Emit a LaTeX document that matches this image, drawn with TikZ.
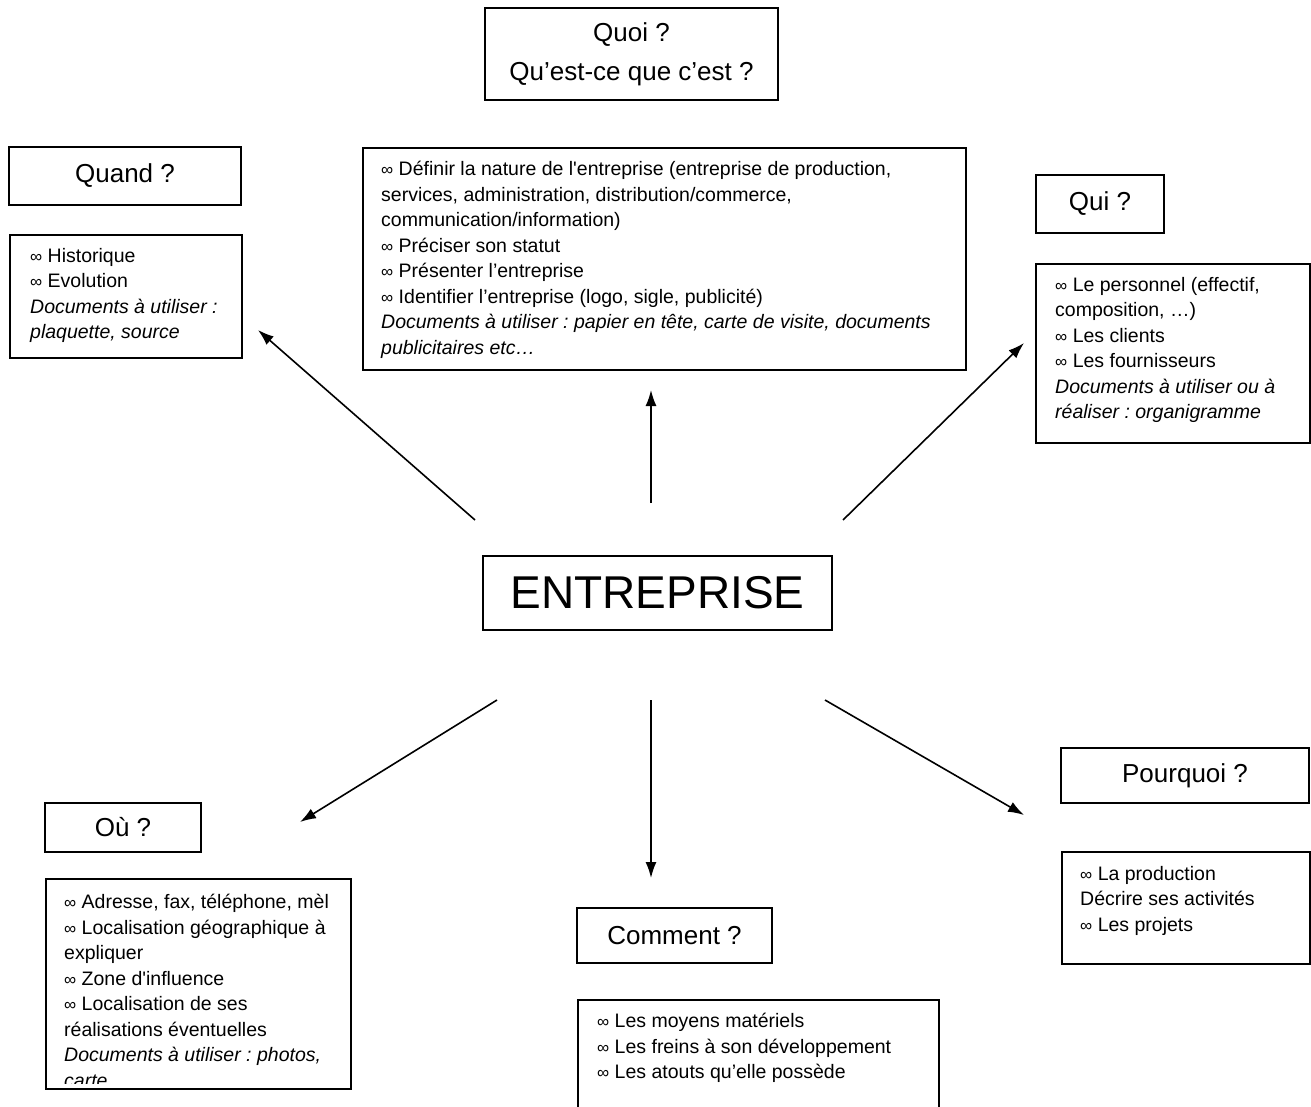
\documentclass[tikz,border=0pt]{standalone}
\usepackage{fontspec}
\setmainfont{Liberation Sans}
\usetikzlibrary{positioning,calc,arrows.meta}
\frenchspacing

\tikzset{
  titlebox/.style={draw, line width=1.6pt, align=center, inner sep=0pt, font=\fontsize{26}{39}\selectfont},
  textbox/.style={draw, line width=1.6pt, anchor=north west, inner sep=0pt},
  bodytext/.style={anchor=north west, align=left, inner sep=0pt, font=\fontsize{19.5}{25.5}\selectfont, execute at begin node=\strut},
  link/.style={line width=1.6pt, -{Latex[length=16pt,width=11pt]}}
}
\newcommand{\puce}{{\fontsize{17}{17}\selectfont ∞}\ }

\begin{document}
\begin{tikzpicture}[x=1pt, y=-1pt]
\useasboundingbox (0,0) rectangle (1311,1107);
\clip (0,0) rectangle (1311,1107);

% centre
\node[draw, line width=1.6pt, minimum width=349pt, minimum height=74pt, inner sep=0pt,
      font=\fontsize{46}{46}\selectfont] (entreprise) at (657.5,593) {ENTREPRISE};

% titres
\node[titlebox, minimum width=293pt, minimum height=92pt] (quoi) at (631.5,54) {Quoi ?\\Qu’est-ce que c’est ?};
\node[titlebox, minimum width=232pt, minimum height=58pt] (quand) at (125,176) {Quand ?};
\node[titlebox, minimum width=128pt, minimum height=58pt] (qui) at (1100,204) {Qui ?};
\node[titlebox, minimum width=248pt, minimum height=55pt] (pourquoi) at (1185,775.5) {Pourquoi ?};
\node[titlebox, minimum width=156pt, minimum height=49pt] (ou) at (123,827.5) {Où ?};
\node[titlebox, minimum width=195pt, minimum height=55pt] (comment) at (674.5,935.5) {Comment ?};

% cadres de contenu
\node[textbox, minimum width=232pt, minimum height=123pt] (quandbox) at (9,234) {};
\node[textbox, minimum width=603pt, minimum height=222pt] (quoibox) at (362,147) {};
\node[textbox, minimum width=274pt, minimum height=179pt] (quibox) at (1035,263) {};
\node[textbox, minimum width=248pt, minimum height=112pt] (pourquoibox) at (1061,851) {};
\node[textbox, minimum width=305pt, minimum height=210pt] (oubox) at (45,878) {};
\node[textbox, minimum width=361pt, minimum height=140pt] (commentbox) at (577,999) {};

% textes
\node[bodytext] (quandtxt) at (30,248) {\puce Historique\\\puce Evolution\\
  \textit{Documents à utiliser :}\\\textit{plaquette, source}};
\node[bodytext] (quoitxt) at (381,161) {\puce Définir la nature de l\textquotesingle entreprise (entreprise de production,\\
  services, administration, distribution/commerce,\\
  communication/information)\\
  \puce Préciser son statut\\
  \puce Présenter l’entreprise\\
  \puce Identifier l’entreprise (logo, sigle, publicité)\\
  \textit{Documents à utiliser : papier en tête, carte de visite, documents}\\
  \textit{publicitaires etc…}};
\node[bodytext] (quitxt) at (1055,277) {\puce Le personnel (effectif,\\composition, …)\\
  \puce Les clients\\\puce Les fournisseurs\\
  \textit{Documents à utiliser ou à}\\\textit{réaliser : organigramme}};
\node[bodytext] (pourquoitxt) at (1080,866) {\puce La production\\Décrire ses activités\\\puce Les projets};
\begin{scope}
  \clip (45,878) rectangle (350,1083);
  \node[bodytext] (outxt) at (64,894) {\puce Adresse, fax, téléphone, mèl\\
    \puce Localisation géographique à\\expliquer\\
    \puce Zone d\textquotesingle influence\\
    \puce Localisation de ses\\réalisations éventuelles\\
    \textit{Documents à utiliser : photos,}\\\textit{carte}};
\end{scope}
\node[bodytext] (commenttxt) at (597,1013) {\puce Les moyens matériels\\
  \puce Les freins à son développement\\\puce Les atouts qu’elle possède};

% fleches
\coordinate (dquand) at (475,520);
\coordinate (aquand) at (258,330);
\coordinate (dquoi) at (651,503);
\coordinate (aquoi) at (651,390);
\coordinate (dqui) at (843,520);
\coordinate (aqui) at (1024,343);
\coordinate (dou) at (497,700);
\coordinate (aou) at (300,822);
\coordinate (dcomment) at (651,700);
\coordinate (acomment) at (651,878);
\coordinate (dpourquoi) at (825,700);
\coordinate (apourquoi) at (1024,815);

\draw[link] (dquand) -- (aquand);
\draw[link] (dquoi) -- (aquoi);
\draw[link] (dqui) -- (aqui);
\draw[link] (dou) -- (aou);
\draw[link] (dcomment) -- (acomment);
\draw[link] (dpourquoi) -- (apourquoi);
\end{tikzpicture}
\end{document}
